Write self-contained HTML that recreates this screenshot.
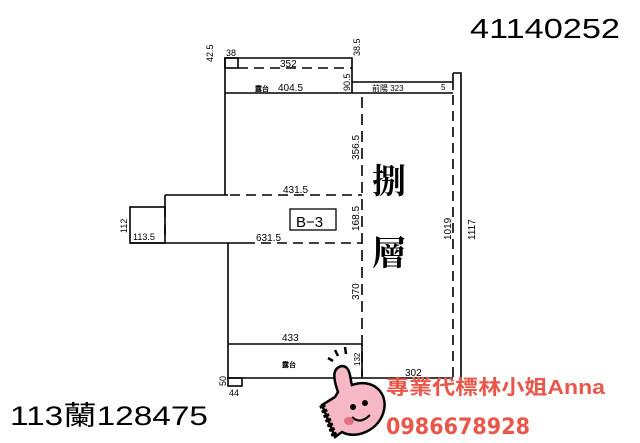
<!DOCTYPE html>
<html><head><meta charset="utf-8"><style>
html,body{margin:0;padding:0;background:#fff;}
svg{display:block;}
</style></head><body>
<svg width="640" height="443" viewBox="0 0 640 443" xmlns="http://www.w3.org/2000/svg" font-family="Liberation Sans, sans-serif">
<rect width="640" height="443" fill="#fff"/>
<g stroke="#000" stroke-width="1.6" fill="none">
 <path d="M225 93 V58 H352 V93"/>
 <rect x="225" y="58" width="13" height="10"/>
 <path d="M238 68 H352" stroke-dasharray="10 6"/>
 <path d="M225 93 H453"/>
 <path d="M352 82 H453"/>
 <path d="M453 73 H461 V383"/>
 <path d="M453 73 V90"/>
 <path d="M453 95 V380" stroke-dasharray="10 6"/>
 <path d="M362 97 V376" stroke-dasharray="11 6"/>
 <path d="M225 93 V195"/>
 <path d="M165 195 H228"/>
 <path d="M230 195 H362" stroke-dasharray="10 6"/>
 <path d="M165 195 V207"/>
 <path d="M165 207 V243" stroke-dasharray="10 8"/>
 <rect x="130" y="207" width="35" height="36"/>
 <path d="M130 243 H245"/>
 <path d="M245 243 H362" stroke-dasharray="10 6"/>
 <path d="M228 243 V378 H453"/>
 <path d="M228 344 H362 V378"/>
 <rect x="228" y="378" width="14" height="8"/>
 <rect x="290" y="209" width="46" height="21" stroke-width="1.3"/>
</g>
<g font-size="10" fill="#000">
 <text x="213" y="62" transform="rotate(-90 213 62)" font-size="9">42.5</text>
 <text x="226" y="56" font-size="9">38</text>
 <text x="280" y="67">352</text>
 <text x="360" y="56" transform="rotate(-90 360 56)" font-size="9">38.5</text>
 <text x="255" y="91" font-size="7" font-weight="bold">露台</text>
 <text x="278" y="91">404.5</text>
 <text x="350" y="91" transform="rotate(-90 350 91)" font-size="9">90.5</text>
 <text x="372" y="91" font-size="8">前陽 323</text>
 <text x="441" y="90" font-size="8">5</text>
 <text x="359" y="160" transform="rotate(-90 359 160)">356.5</text>
 <text x="283" y="193">431.5</text>
 <text x="359" y="231" transform="rotate(-90 359 231)">168.5</text>
 <text x="256" y="241">631.5</text>
 <text x="133" y="240" font-size="9">113.5</text>
 <text x="127" y="233" transform="rotate(-90 127 233)" font-size="9">112</text>
 <text x="359" y="300" transform="rotate(-90 359 300)">370</text>
 <text x="282" y="341">433</text>
 <text x="282" y="367" font-size="7" font-weight="bold">露台</text>
 <text x="360" y="366" transform="rotate(-90 360 366)" font-size="8">132</text>
 <text x="405" y="376">302</text>
 <text x="226" y="386" transform="rotate(-90 226 386)" font-size="9">50</text>
 <text x="229" y="396" font-size="9">44</text>
 <text x="451" y="240" transform="rotate(-90 451 240)">1019</text>
 <text x="475" y="240" transform="rotate(-90 475 240)">1117</text>
 <text x="296" y="227" font-size="15">B−3</text>
</g>
<text x="372" y="193" font-size="34" font-family="Noto Serif CJK SC, serif" font-weight="bold">捌</text>
<text x="372" y="265" font-size="34" font-family="Noto Serif CJK SC, serif" font-weight="bold">層</text>
<text x="470" y="38" font-size="28" textLength="150" lengthAdjust="spacingAndGlyphs">41140252</text>
<text x="10" y="425" font-size="27" textLength="198" lengthAdjust="spacingAndGlyphs" font-family="Liberation Sans, Noto Sans CJK TC, sans-serif">113蘭128475</text>
<g stroke="#000" stroke-width="2.5">
 <path d="M335 350 l3 6 M345 347 l1 7 M328 358 l5 3" fill="none"/>
 <path d="M338 392 C333 378 332 368 342 366 C351 366 350 380 352 385 C372 378 388 392 384 410 C380 430 356 440 342 432 L335 437 L322 405 L335 397 Z" fill="#f5b8c4"/>
 <path d="M322 405 L335 437" stroke-width="6" stroke-dasharray="3 2"/>
</g>
<circle cx="353" cy="407" r="3" fill="#000"/>
<circle cx="365" cy="403" r="3" fill="#000"/>
<path d="M352 417 q8 8 18 -2" stroke="#000" stroke-width="2" fill="none"/>
<ellipse cx="349" cy="421" rx="5" ry="4" fill="#e07080"/>
<g fill="#e8574a" font-weight="bold" font-family="Liberation Sans, Noto Sans CJK TC, sans-serif">
 <text x="386" y="394" font-size="20" textLength="219" lengthAdjust="spacingAndGlyphs">專業代標林小姐Anna</text>
 <text x="386" y="434" font-size="22" textLength="144" lengthAdjust="spacingAndGlyphs" font-family="DejaVu Sans, sans-serif">0986678928</text>
</g>
</svg>
</body></html>
